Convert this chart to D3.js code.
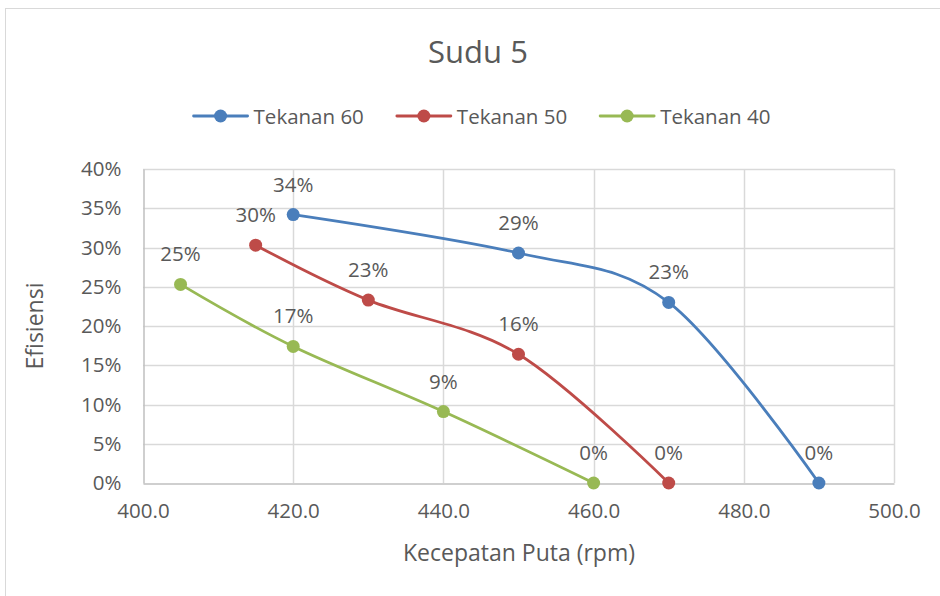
<!DOCTYPE html>
<html>
<head>
<meta charset="UTF-8">
<title>Sudu 5</title>
<script src="https://cdn.jsdelivr.net/npm/d3@7"></script>
<style>
  body { margin: 0; background: #fff; }
  text { font-family: "Open Sans", sans-serif; fill: #595959; }
</style>
</head>
<body>
<div id="chart"></div>
<script>
// data
var seriesNames = ['Tekanan 60', 'Tekanan 50', 'Tekanan 40'];
var seriesColors = ['#4a7ebb', '#be4b48', '#98b954'];
var rpm60 = [420, 450, 470, 490];
var eff60 = [0.342, 0.293, 0.230, 0.0];
var rpm50 = [415, 430, 450, 470];
var eff50 = [0.303, 0.233, 0.164, 0.0];
var rpm40 = [405, 420, 440, 460];
var eff40 = [0.253, 0.174, 0.091, 0.0];
var xTicks = [400, 420, 440, 460, 480, 500];
var yTicks = [0, 0.05, 0.10, 0.15, 0.20, 0.25, 0.30, 0.35, 0.40];

var W = 940, H = 596;
var pLeft = 143, pRight = 894, pTop = 169, pBottom = 483;

var svg = d3.select('#chart').append('svg')
    .attr('width', W).attr('height', H);

svg.append('rect')
    .attr('x', 5.5).attr('y', 8.5)
    .attr('width', W + 10).attr('height', H + 10)
    .attr('fill', '#fff').attr('stroke', '#d9d9d9');

var x = d3.scaleLinear().domain([400, 500]).range([pLeft, pRight]);
var y = d3.scaleLinear().domain([0, 0.40]).range([pBottom, pTop]);

// grid
svg.append('g').selectAll('line').data(yTicks.slice(1)).enter().append('line')
    .attr('x1', pLeft).attr('x2', pRight)
    .attr('y1', function(d){ return Math.round(y(d)) + 0.5; })
    .attr('y2', function(d){ return Math.round(y(d)) + 0.5; })
    .attr('stroke', '#d9d9d9').attr('stroke-width', 1.5);
svg.append('g').selectAll('line').data(xTicks.slice(1)).enter().append('line')
    .attr('y1', pTop).attr('y2', pBottom)
    .attr('x1', function(d){ return Math.round(x(d)) + 0.5; })
    .attr('x2', function(d){ return Math.round(x(d)) + 0.5; })
    .attr('stroke', '#d9d9d9').attr('stroke-width', 1.5);

// axes
var xAxis = svg.append('g')
    .attr('transform', 'translate(0,' + (Math.round(pBottom) + 0.5) + ')')
    .call(d3.axisBottom(x).tickValues(xTicks).tickSize(0).tickPadding(20)
        .tickFormat(d3.format('.1f')));
var yAxis = svg.append('g')
    .attr('transform', 'translate(' + (pLeft + 0.5) + ',0)')
    .call(d3.axisLeft(y).tickValues(yTicks).tickSize(0).tickPadding(22)
        .tickFormat(d3.format('.0%')));
[xAxis, yAxis].forEach(function(a){
    a.select('.domain').attr('stroke', '#bfbfbf').attr('stroke-width', 1.5);
    a.selectAll('text').style('font-size', '20.5px').attr('fill', '#595959')
        .style('font-family', '"Open Sans", sans-serif');
});

// series
var series = [
    {name: seriesNames[0], color: seriesColors[0], xs: rpm60, ys: eff60},
    {name: seriesNames[1], color: seriesColors[1], xs: rpm50, ys: eff50},
    {name: seriesNames[2], color: seriesColors[2], xs: rpm40, ys: eff40}
];
var line = d3.line()
    .x(function(d){ return x(d[0]); })
    .y(function(d){ return y(d[1]); })
    .curve(d3.curveCardinal.tension(0));

series.forEach(function(s){
    var pts = s.xs.map(function(v, i){ return [v, s.ys[i]]; });
    svg.append('path').datum(pts)
        .attr('d', line).attr('fill', 'none')
        .attr('stroke', s.color).attr('stroke-width', 2.8)
        .attr('stroke-linecap', 'round');
    svg.append('g').selectAll('circle').data(pts).enter().append('circle')
        .attr('cx', function(d){ return x(d[0]); })
        .attr('cy', function(d){ return y(d[1]); })
        .attr('r', 6.5).attr('fill', s.color);
    svg.append('g').selectAll('text').data(pts).enter().append('text')
        .attr('x', function(d){ return x(d[0]); })
        .attr('y', function(d){ return y(d[1]) - 23; })
        .attr('text-anchor', 'middle')
        .style('font-size', '20.5px').attr('fill', '#404040')
        .text(function(d){ return d3.format('.0%')(d[1]); });
});

// title + axis titles
svg.append('text').attr('x', 478).attr('y', 63)
    .attr('text-anchor', 'middle').style('font-size', '31px')
    .text('Sudu 5');
svg.append('text').attr('x', 519).attr('y', 561)
    .attr('text-anchor', 'middle').style('font-size', '23px')
    .text('Kecepatan Puta (rpm)');
svg.append('text')
    .attr('transform', 'translate(43,326) rotate(-90)')
    .attr('text-anchor', 'middle').style('font-size', '23px')
    .text('Efisiensi');

// legend
var lg = svg.append('g');
var lx = 0;
series.forEach(function(s){
    var g = lg.append('g').attr('transform', 'translate(' + lx + ',0)');
    g.append('line').attr('x1', 0).attr('x2', 54).attr('y1', 0).attr('y2', 0)
        .attr('stroke', s.color).attr('stroke-width', 2.8).attr('stroke-linecap', 'round');
    g.append('circle').attr('cx', 27).attr('cy', 0).attr('r', 6.5).attr('fill', s.color);
    var t = g.append('text').attr('x', 60).attr('y', 7.5)
        .style('font-size', '20.5px').text(s.name);
    lx += 60 + t.node().getComputedTextLength() + 33;
});
var lw = lx - 33;
lg.attr('transform', 'translate(' + (482 - lw / 2) + ',116)');
</script>
</body>
</html>
